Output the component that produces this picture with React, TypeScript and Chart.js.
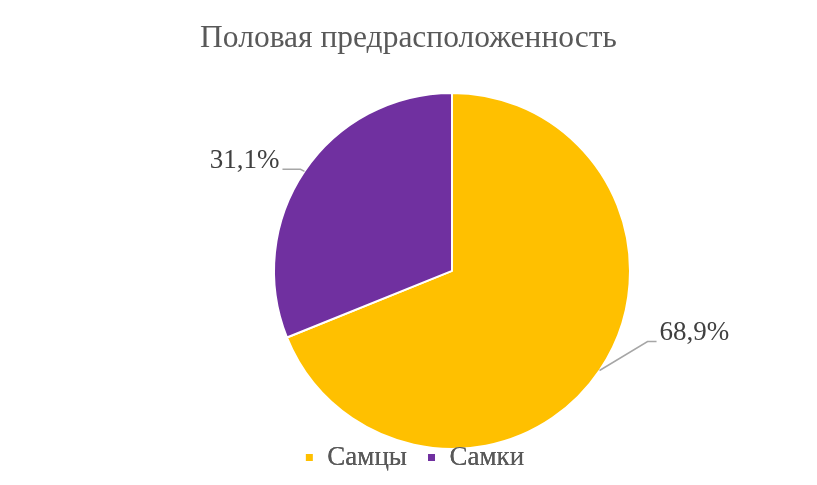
import { useEffect, useRef } from "react";
import { Chart, registerables, type Plugin } from "chart.js";

Chart.register(...registerables);

const categories = ["Самцы", "Самки"];
const shares = [68.9, 31.1];
const sliceColors = ["#FFC000", "#7030A0"];
const valueLabels = ["68,9%", "31,1%"];

const FONT = "'Liberation Serif', 'Times New Roman', serif";

// hand-placed callouts, like the original: elbow offset from slice edge, then a short horizontal run
const callouts = [
    { elbow: { x: 48, y: -29 }, run: 9, align: "left" as CanvasTextAlign },
    { elbow: { x: -4, y: -2 }, run: -18, align: "right" as CanvasTextAlign },
];

// the pie sits right of the page centre while title and legend stay (nearly) centred
const PIE_SHIFT = 87;
const LEGEND_SHIFT = 6;

const shiftPlugin: Plugin<"pie"> = {
    id: "pieShift",
    afterLayout(chart) {
        const a = chart.chartArea;
        a.left += PIE_SHIFT;
        a.width = a.right - a.left;
        const lg = (chart as any).legend;
        if (lg) {
            lg.left += LEGEND_SHIFT;
            lg.right += LEGEND_SHIFT;
        }
    },
};

const calloutPlugin: Plugin<"pie"> = {
    id: "callouts",
    afterDatasetsDraw(chart) {
        const ctx = chart.ctx;
        const meta = chart.getDatasetMeta(0);
        meta.data.forEach((el, i) => {
            const arc = el as any;
            const { x, y, startAngle, endAngle, outerRadius } = arc.getProps(
                ["x", "y", "startAngle", "endAngle", "outerRadius"],
                true
            );
            const mid = (startAngle + endAngle) / 2;
            const ex = x + Math.cos(mid) * outerRadius;
            const ey = y + Math.sin(mid) * outerRadius;
            const c = callouts[i];
            const bx = ex + c.elbow.x;
            const by = ey + c.elbow.y;
            const tx = bx + c.run;
            ctx.save();
            ctx.strokeStyle = "#A6A6A6";
            ctx.lineWidth = 1.5;
            ctx.beginPath();
            ctx.moveTo(ex, ey);
            ctx.lineTo(bx, by);
            ctx.lineTo(tx, by);
            ctx.stroke();
            ctx.fillStyle = "#404040";
            ctx.font = `27px ${FONT}`;
            ctx.textAlign = c.align;
            ctx.textBaseline = "alphabetic";
            ctx.fillText(valueLabels[i], tx + (c.run > 0 ? 3 : -3), by - 1);
            ctx.restore();
        });
        // legend overlaps the bottom of the pie, so paint it again on top
        const lg = (chart as any).legend;
        if (lg) lg.draw();
    },
};

const SexPieChart = () => {
    const chartRef = useRef<HTMLCanvasElement>(null);
    const chartInstance = useRef<Chart<"pie"> | null>(null);

    useEffect(() => {
        if (!chartRef.current) return;
        if (chartInstance.current) {
            chartInstance.current.destroy();
        }

        chartInstance.current = new Chart(chartRef.current, {
            type: "pie",
            data: {
                labels: categories,
                datasets: [
                    {
                        data: shares,
                        backgroundColor: sliceColors,
                        borderColor: "#FFFFFF",
                        borderWidth: 2,
                        radius: 178,
                        clip: false,
                    },
                ],
            },
            options: {
                animation: false,
                responsive: false,
                maintainAspectRatio: false,
                layout: {
                    padding: { left: 0, right: 0, top: 0, bottom: 4 },
                },
                plugins: {
                    title: {
                        display: true,
                        text: "Половая предрасположенность",
                        color: "#595959",
                        font: { family: FONT, size: 31.5, weight: "normal" },
                        padding: { top: 20, bottom: 60 },
                    },
                    legend: {
                        position: "bottom",
                        labels: {
                            color: "#595959",
                            font: { family: FONT, size: 27 },
                            boxWidth: 9,
                            boxHeight: 9,
                            padding: 20,
                            usePointStyle: false,
                        },
                    },
                    tooltip: { enabled: false },
                },
            },
            plugins: [shiftPlugin, calloutPlugin],
        });

        return () => {
            if (chartInstance.current) {
                chartInstance.current.destroy();
                chartInstance.current = null;
            }
        };
    }, []);

    return (
        <div style={{ position: "absolute", left: 0, top: 0, width: 817, height: 485, background: "#fff" }}>
            <canvas ref={chartRef} width={817} height={485} style={{ width: 817, height: 485 }}></canvas>
        </div>
    );
};

export default function App() {
    return <SexPieChart />;
}
